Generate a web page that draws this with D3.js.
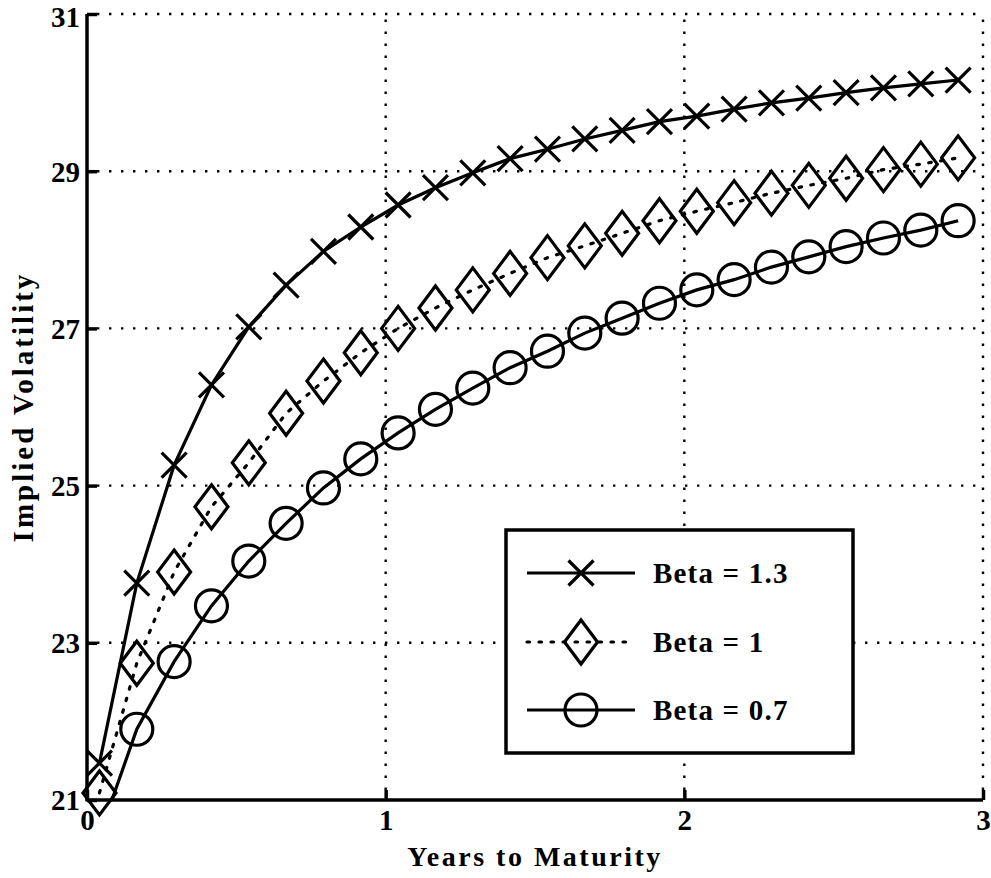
<!DOCTYPE html>
<html>
<head>
<meta charset="utf-8">
<script src="https://cdn.jsdelivr.net/npm/d3@7"></script>
<style>
  html, body { margin: 0; padding: 0; background: #fff; }
  svg text { font-family: "Liberation Serif", "Times New Roman", serif; font-weight: bold; fill: #000; }
</style>
</head>
<body>
<svg id="chart" width="991" height="878"></svg>
<script>
// ---- data ----
const maturities = [0.0417, 0.1667, 0.2917, 0.4167, 0.5417, 0.6667, 0.7917, 0.9167, 1.0417, 1.1667,
  1.2917, 1.4167, 1.5417, 1.6667, 1.7917, 1.9167, 2.0417, 2.1667, 2.2917, 2.4167, 2.5417, 2.6667, 2.7917, 2.9167];
const beta13 = [21.47, 23.76, 25.26, 26.28, 27.02, 27.55, 27.98, 28.29, 28.57, 28.79, 28.98, 29.16,
  29.28, 29.41, 29.52, 29.63, 29.70, 29.79, 29.87, 29.93, 30.00, 30.06, 30.11, 30.16];
const beta10 = [21.09, 22.74, 23.90, 24.73, 25.29, 25.92, 26.33, 26.69, 27.00, 27.26, 27.49, 27.70,
  27.90, 28.05, 28.21, 28.37, 28.49, 28.60, 28.72, 28.82, 28.91, 29.02, 29.09, 29.17];
const beta07 = [20.55, 21.90, 22.76, 23.47, 24.04, 24.52, 24.97, 25.34, 25.67, 25.97, 26.24, 26.50,
  26.71, 26.94, 27.13, 27.32, 27.49, 27.62, 27.78, 27.91, 28.04, 28.15, 28.25, 28.37];
const seriesNames = ["Beta = 1.3", "Beta = 1", "Beta = 0.7"];
const xTicks = [0, 1, 2, 3];
const yTicks = [21, 23, 25, 27, 29, 31];
const xLabel = "Years to Maturity";
const yLabel = "Implied Volatility";

// ---- layout ----
const svg = d3.select("#chart");
const L = 87, R = 983, T = 14, B = 800;
const x = d3.scaleLinear().domain([0, 3]).range([L, R]);
const y = d3.scaleLinear().domain([21, 31]).range([B, T]);

svg.append("defs").append("clipPath").attr("id", "plotclip")
  .append("rect").attr("x", L).attr("y", T).attr("width", R - L).attr("height", B - T);

// grid
const grid = svg.append("g");
grid.selectAll("line.gy").data(yTicks.filter(d => d !== 21)).enter().append("line")
  .attr("x1", L).attr("x2", R).attr("y1", d => y(d)).attr("y2", d => y(d))
  .attr("stroke", "#000").attr("stroke-width", 2.4).attr("stroke-dasharray", "2.4,9.6").attr("stroke-dashoffset", -10);
grid.selectAll("line.gx").data(xTicks.filter(d => d !== 0)).enter().append("line")
  .attr("y1", B).attr("y2", T).attr("x1", d => x(d)).attr("x2", d => x(d))
  .attr("stroke", "#000").attr("stroke-width", 2.4).attr("stroke-dasharray", "2.4,9.6").attr("stroke-dashoffset", -10);

// axes
const xAxis = d3.axisBottom(x).tickValues(xTicks).tickSize(-10).tickPadding(12).tickFormat(d3.format("d"));
const yAxis = d3.axisLeft(y).tickValues(yTicks).tickSize(-10).tickPadding(7).tickFormat(d3.format("d"));
const gx = svg.append("g").attr("transform", `translate(0,${B})`).call(xAxis);
const gy = svg.append("g").attr("transform", `translate(${L},0)`).call(yAxis);
[gx, gy].forEach(g => {
  g.select(".domain").remove();
  g.selectAll(".tick line").attr("stroke", "#000").attr("stroke-width", 3.5);
  g.selectAll(".tick text").style("font-size", "29px").style("font-family", "'Liberation Serif', serif").style("font-weight", "bold");
});
gx.selectAll(".tick text").attr("dy", "0.62em");
gy.selectAll(".tick text").attr("dy", d => d === 31 ? "0.42em" : "0.34em");
svg.append("line").attr("x1", L).attr("x2", R).attr("y1", B).attr("y2", B).attr("stroke", "#000").attr("stroke-width", 3.5);
svg.append("line").attr("x1", L).attr("x2", L).attr("y1", B + 1.5).attr("y2", T).attr("stroke", "#000").attr("stroke-width", 3.5);

// axis labels
svg.append("text").attr("x", (L + R) / 2).attr("y", 866).attr("text-anchor", "middle")
  .style("font-size", "28px").style("letter-spacing", "2.5px").text(xLabel);
svg.append("text").attr("transform", `translate(33,${(T + B) / 2}) rotate(-90)`).attr("text-anchor", "middle")
  .style("font-size", "29px").style("letter-spacing", "3px").text(yLabel);

// series
const series = [
  { name: seriesNames[0], vals: beta13, dash: null, marker: "x" },
  { name: seriesNames[1], vals: beta10, dash: "2.5,9.5", marker: "diamond" },
  { name: seriesNames[2], vals: beta07, dash: null, marker: "circle" }
];
const line = d3.line().x(d => x(d[0])).y(d => y(d[1]));

function drawMarker(g, type, cx, cy) {
  if (type === "x") {
    const s = 12.5;
    g.append("path").attr("d", `M${cx - s},${cy - s}L${cx + s},${cy + s}M${cx - s},${cy + s}L${cx + s},${cy - s}`)
      .attr("stroke", "#000").attr("stroke-width", 3.2).attr("fill", "none");
  } else if (type === "diamond") {
    const w = 16.5, h = 22;
    g.append("path").attr("d", `M${cx},${cy - h}L${cx + w},${cy}L${cx},${cy + h}L${cx - w},${cy}Z`)
      .attr("stroke", "#000").attr("stroke-width", 3.2).attr("fill", "none");
  } else {
    g.append("circle").attr("cx", cx).attr("cy", cy).attr("r", 16)
      .attr("stroke", "#000").attr("stroke-width", 3.2).attr("fill", "none");
  }
}

series.forEach(s => {
  const pts = maturities.map((t, i) => [t, s.vals[i]]);
  svg.append("path").datum(pts).attr("d", line).attr("clip-path", "url(#plotclip)")
    .attr("fill", "none").attr("stroke", "#000").attr("stroke-width", 3.2)
    .attr("stroke-dasharray", s.dash).attr("stroke-linecap", s.dash ? "round" : "butt");
  const mg = svg.append("g");
  pts.filter(p => p[1] >= 21 && p[1] <= 31).forEach(p => drawMarker(mg, s.marker, x(p[0]), y(p[1])));
});

// legend
const lg = svg.append("g");
lg.append("rect").attr("x", 506).attr("y", 530).attr("width", 347).attr("height", 223)
  .attr("fill", "#fff").attr("stroke", "#000").attr("stroke-width", 3.5);
const rowY = [573, 642, 710];
series.forEach((s, i) => {
  lg.append("line").attr("x1", 527).attr("x2", 635).attr("y1", rowY[i]).attr("y2", rowY[i])
    .attr("stroke", "#000").attr("stroke-width", 3.2).attr("stroke-dasharray", s.dash)
    .attr("stroke-linecap", s.dash ? "round" : "butt");
  drawMarker(lg, s.marker, 581, rowY[i]);
  lg.append("text").attr("x", 653).attr("y", rowY[i]).attr("dy", "0.35em")
    .style("font-size", "29px").style("letter-spacing", "1.2px").text(s.name);
});
</script>
</body>
</html>
